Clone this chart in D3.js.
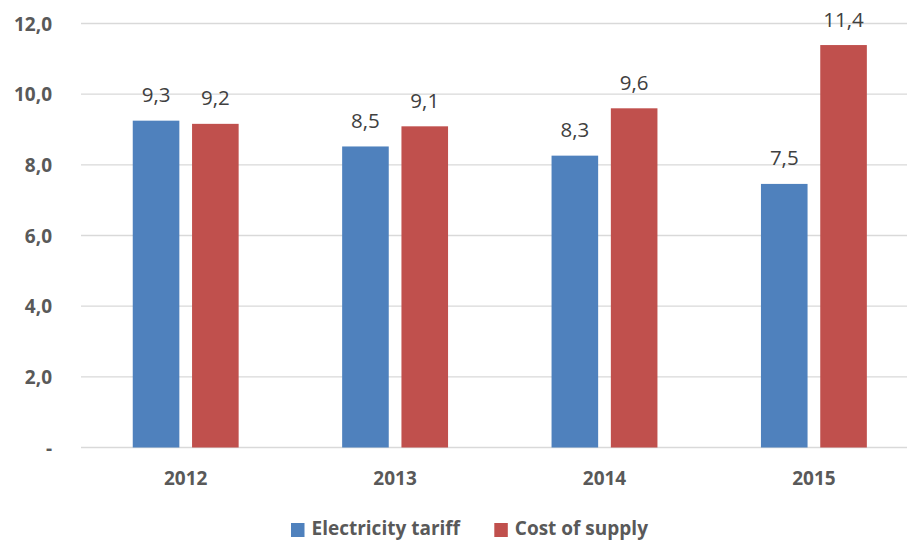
<!DOCTYPE html>
<html><head><meta charset="utf-8">
<script src="https://cdn.jsdelivr.net/npm/d3@7"></script>
<style>
html,body{margin:0;padding:0;background:#fff;}
svg{display:block;}
</style>
</head><body>
<script>
const years = ["2012", "2013", "2014", "2015"];
const seriesNames = ["Electricity tariff", "Cost of supply"];
const tariff = [9.25, 8.52, 8.26, 7.46];
const supply = [9.16, 9.09, 9.60, 11.39];
const yTicks = [0, 2, 4, 6, 8, 10, 12];
const colors = ["#4F81BD", "#C0504D"];

const W = 907, H = 541;
const svg = d3.select("body").append("svg").attr("width", W).attr("height", H)
  .style("font-family", "'Open Sans', sans-serif");

const x = d3.scaleBand().domain(years).range([81, 918.6]).paddingInner(0).paddingOuter(0);
const y = d3.scaleLinear().domain([0, 12]).range([447.5, 23.5]);
const fmt = v => v === 0 ? "-" : d3.format(".1f")(v).replace(".", ",");

// gridlines
svg.append("g").selectAll("line").data(yTicks).join("line")
  .attr("x1", 81).attr("x2", W)
  .attr("y1", d => y(d)).attr("y2", d => y(d))
  .attr("stroke", "#D9D9D9").attr("stroke-width", 1.4);

// y labels
svg.append("g").selectAll("text").data(yTicks).join("text")
  .attr("x", 52).attr("y", d => y(d) + 7)
  .attr("text-anchor", "end")
  .attr("font-size", 19).attr("font-weight", "bold").attr("fill", "#595959")
  .text(fmt);

// bars
const data = years.map((yr, i) => ({yr, vals: [tariff[i], supply[i]]}));
const barW = 46.6, gap = 12.7;
const groups = svg.append("g").selectAll("g").data(data).join("g")
  .attr("transform", d => `translate(${x(d.yr) + x.bandwidth()/2},0)`);
const offs = [-(gap/2 + barW), gap/2];
groups.selectAll("rect").data(d => d.vals).join("rect")
  .attr("x", (v, i) => offs[i]).attr("width", barW)
  .attr("y", v => y(v)).attr("height", v => y(0) - y(v))
  .attr("fill", (v, i) => colors[i]);
groups.selectAll("text").data(d => d.vals).join("text")
  .attr("x", (v, i) => offs[i] + barW/2)
  .attr("y", v => y(v) - 18.5)
  .attr("text-anchor", "middle")
  .attr("font-size", 20.5).attr("fill", "#404040")
  .text(v => d3.format(".1f")(v).replace(".", ","));

// x labels
svg.append("g").selectAll("text").data(years).join("text")
  .attr("x", d => x(d) + x.bandwidth()/2).attr("y", 485)
  .attr("text-anchor", "middle")
  .attr("font-size", 19).attr("font-weight", "bold").attr("fill", "#595959")
  .text(d => d);

// legend
const legX = [291, 494.3];
const leg = svg.append("g").selectAll("g").data(seriesNames).join("g")
  .attr("transform", (d, i) => `translate(${legX[i]},0)`);
leg.append("rect").attr("x", 0).attr("y", 523).attr("width", 13.5).attr("height", 14)
  .attr("fill", (d, i) => colors[i]);
leg.append("text").attr("x", 20.5).attr("y", 535)
  .attr("font-size", 19).attr("font-weight", "bold").attr("fill", "#595959")
  .text(d => d);
</script>
</body></html>
